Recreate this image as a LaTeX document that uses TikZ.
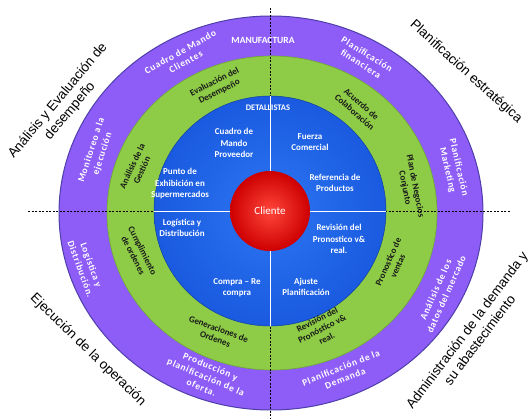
\documentclass[tikz,border=0pt]{standalone}
\usepackage{fontspec}
\setmainfont{Carlito}
\newfontfamily\outerfont{Liberation Sans}
\newfontfamily\ringfont[LetterSpace=8]{Carlito}
\begin{document}
\definecolor{ringpurple}{RGB}{142,92,246}
\definecolor{ringedge}{RGB}{78,62,170}
\definecolor{ringgreen}{RGB}{142,204,72}
\definecolor{greenedge}{RGB}{110,170,50}
\definecolor{corein}{RGB}{44,118,242}
\definecolor{coreout}{RGB}{26,90,224}
\definecolor{redin}{RGB}{255,70,60}
\definecolor{redout}{RGB}{205,0,0}
\begin{tikzpicture}[x=1pt,y=-1pt,
  outer/.style={font=\outerfont\fontsize{13.5}{16}\selectfont, align=center, inner sep=0pt, text=black},
  ringlbl/.style={font=\ringfont\bfseries\fontsize{9.5}{11.5}\selectfont, text=white, align=center, inner sep=0pt},
  greenlbl/.style={font=\bfseries\fontsize{9}{10.5}\selectfont, text=black!90, align=center, inner sep=0pt},
  bluelbl/.style={font=\bfseries\fontsize{9}{11.5}\selectfont, text=white, align=center, inner sep=0pt},
  axis/.style={black, line width=0.6pt, dash pattern=on 2pt off 1.5pt},
  split/.style={white, line width=0.8pt}]
\useasboundingbox (0,0) rectangle (532,419);

% rings, from the outside in
\fill[ringpurple, draw=ringedge, line width=1pt] (271,213) ellipse [x radius=212pt, y radius=197pt];
\fill[ringgreen, draw=greenedge, line width=0.6pt] (272,213) ellipse [x radius=165pt, y radius=157pt];

% quadrant axes
\coordinate (vtop) at (270,8);
\coordinate (vbot) at (270,419);
\coordinate (hleft) at (28,211);
\coordinate (hright) at (510,211);
\draw[axis] (vtop) -- (vbot);
\draw[axis] (hleft) -- (hright);

% inner blue disc
\shade[inner color=corein, outer color=coreout] (270,211) ellipse [x radius=116pt, y radius=115pt];
\draw[coreout!70!black, line width=0.5pt] (270,211) ellipse [x radius=116pt, y radius=115pt];
\coordinate (btop) at (270,96);
\coordinate (bbot) at (270,326);
\coordinate (bleft) at (154,211);
\coordinate (bright) at (386,211);
\draw[split] (btop) -- (bbot);
\draw[split] (bleft) -- (bright);

% centre
\shade[inner color=redin, outer color=redout] (270,211) circle [radius=40pt];
\node[font=\fontsize{11}{13}\selectfont, text=white] (cliente) at (270,211) {Cliente};

% outer headings
\node[outer, rotate=50] (analisis) at (64,106) {Análisis y Evaluación de\\desempeño};
\node[outer, rotate=-42] (estrategica) at (466,72) {Planificación estratégica};
\node[outer, rotate=-44] (ejecucion) at (88,350) {Ejecución de la operación};
\node[outer, rotate=53] (demanda) at (473,335) {Administración de la demanda y\\su abastecimiento};

% purple ring
\node[font=\bfseries\fontsize{9.5}{10}\selectfont, text=white, inner sep=0pt] (manuf) at (263,40) {MANUFACTURA};
\node[ringlbl, rotate=29] (cmclientes) at (183,57) {Cuadro de Mando\\Clientes};
\node[ringlbl, rotate=-32] (pfin) at (364,59) {Planificación\\financiera};
\node[ringlbl, rotate=72] (monitoreo) at (97,152) {Monitoreo a la\\ejecución};
\node[ringlbl, rotate=-70] (logext) at (86,267) {Logística y\\Distribución.};
\node[ringlbl, rotate=-77] (pmkt) at (453,169) {Planificación\\Marketing};
\node[ringlbl, rotate=66] (datos) at (441,292) {Análisis de los\\datos del mercado};
\node[ringlbl, rotate=-23] (produccion) at (206,377) {Producción y\\planificación de la\\oferta.};
\node[ringlbl, rotate=22] (pdemanda) at (343,373) {Planificación de la\\Demanda};

% green ring
\node[greenlbl, rotate=27] (evaluacion) at (217,87) {Evaluación del\\Desempeño};
\node[greenlbl, rotate=-41] (acuerdo) at (358,108) {Acuerdo de\\Colaboración};
\node[greenlbl, rotate=65] (gestion) at (137,168) {Análisis de la\\Gestión};
\node[greenlbl, rotate=-63] (cumplimiento) at (138,253) {Cumplimiento\\de ordenes};
\node[greenlbl, rotate=-79] (negocios) at (410,187) {Plan de Negocios\\Conjunto};
\node[greenlbl, rotate=66] (pventas) at (393,264) {Pronostico de\\ventas};
\node[greenlbl, rotate=-20] (generaciones) at (217,334) {Generaciones de\\Ordenes};
\node[greenlbl, rotate=27] (revext) at (322,329) {Revisión del\\Pronóstico v\&\\real.};

% blue disc
\node[font=\bfseries\fontsize{8.5}{10}\selectfont, text=white, inner sep=0pt] (detallistas) at (268,108) {DETALLISTAS};
\node[bluelbl] (cmprov) at (234,143) {Cuadro de\\Mando\\Proveedor};
\node[bluelbl] (fuerza) at (310,142) {Fuerza\\Comercial};
\node[bluelbl] (punto) at (180,184) {Punto de\\Exhibición en\\Supermercados};
\node[bluelbl] (referencia) at (335,183) {Referencia de\\Productos};
\node[bluelbl] (logint) at (182,228) {Logística y\\Distribución};
\node[bluelbl] (revint) at (339,239) {Revisión del\\Pronostico v\&\\real.};
\node[bluelbl] (compra) at (237,288) {Compra – Re\\compra};
\node[bluelbl] (ajuste) at (306,287) {Ajuste\\Planificación};
\end{tikzpicture}
\end{document}
